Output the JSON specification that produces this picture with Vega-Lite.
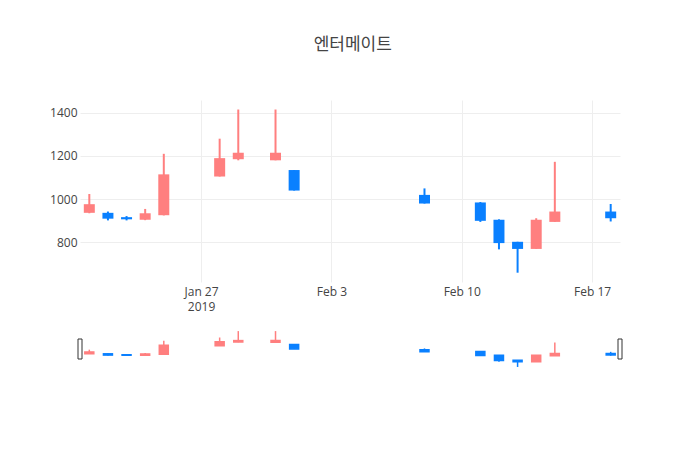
{
  "$schema": "https://vega.github.io/schema/vega-lite/v6.json",
  "background": "white",
  "padding": {"left": 49, "top": 36, "right": 80, "bottom": 20},
  "title": {"text": "엔터메이트", "font": "Noto Sans CJK KR", "fontSize": 17, "fontWeight": "normal", "color": "#444", "anchor": "middle", "offset": 46, "dx": 16},
  "data": {"values": [
    {"date": "2019-01-21", "open": 937, "high": 1024, "low": 935, "close": 977},
    {"date": "2019-01-22", "open": 937, "high": 943, "low": 902, "close": 910},
    {"date": "2019-01-23", "open": 917, "high": 922, "low": 902, "close": 907},
    {"date": "2019-01-24", "open": 905, "high": 955, "low": 903, "close": 935},
    {"date": "2019-01-25", "open": 926, "high": 1210, "low": 925, "close": 1115},
    {"date": "2019-01-28", "open": 1105, "high": 1280, "low": 1105, "close": 1190},
    {"date": "2019-01-29", "open": 1185, "high": 1415, "low": 1180, "close": 1215},
    {"date": "2019-01-31", "open": 1180, "high": 1415, "low": 1180, "close": 1215},
    {"date": "2019-02-01", "open": 1135, "high": 1135, "low": 1040, "close": 1040},
    {"date": "2019-02-08", "open": 1020, "high": 1050, "low": 980, "close": 980},
    {"date": "2019-02-11", "open": 985, "high": 987, "low": 895, "close": 900},
    {"date": "2019-02-12", "open": 905, "high": 907, "low": 768, "close": 797},
    {"date": "2019-02-13", "open": 803, "high": 803, "low": 660, "close": 770},
    {"date": "2019-02-14", "open": 770, "high": 912, "low": 770, "close": 905},
    {"date": "2019-02-15", "open": 895, "high": 1173, "low": 895, "close": 943},
    {"date": "2019-02-18", "open": 943, "high": 978, "low": 897, "close": 912}
  ]},
  "spacing": 17,
  "vconcat": [
    {
      "width": 540,
      "height": 182,
      "encoding": {
        "x": {
          "field": "date", "type": "temporal",
          "scale": {"type": "utc", "padding": 0, "domain": [{"year": 2019, "month": 1, "date": 20, "hours": 12, "utc": true}, {"year": 2019, "month": 2, "date": 18, "hours": 12, "utc": true}]},
          "axis": {
            "title": null,
            "values": [{"year": 2019, "month": 1, "date": 27, "utc": true}, {"year": 2019, "month": 2, "date": 3, "utc": true}, {"year": 2019, "month": 2, "date": 10, "utc": true}, {"year": 2019, "month": 2, "date": 17, "utc": true}],
            "labelExpr": "utcFormat(datum.value, '%b %-d') == 'Jan 27' ? ['Jan 27', '2019'] : utcFormat(datum.value, '%b %-d')",
            "labelLineHeight": 15,
            "labelPadding": 4
          }
        },
        "color": {"condition": {"test": "datum.close >= datum.open", "value": "#FF7F7F"}, "value": "#0A80FF"}
      },
      "layer": [
        {
          "mark": {"type": "rule", "strokeWidth": 2},
          "encoding": {
            "y": {"field": "low", "type": "quantitative", "scale": {"domain": [617, 1459], "nice": false, "zero": false, "padding": 0},
              "axis": {"title": null, "values": [800, 1000, 1200, 1400], "format": "d", "labelPadding": 3}},
            "y2": {"field": "high"}
          }
        },
        {
          "mark": {"type": "bar", "size": 11},
          "encoding": {
            "y": {"field": "open", "type": "quantitative"},
            "y2": {"field": "close"}
          }
        }
      ]
    },
    {
      "width": 540,
      "height": 40,
      "encoding": {
        "x": {
          "field": "date", "type": "temporal",
          "scale": {"type": "utc", "padding": 0, "domain": [{"year": 2019, "month": 1, "date": 20, "hours": 12, "utc": true}, {"year": 2019, "month": 2, "date": 18, "hours": 12, "utc": true}]},
          "axis": null
        },
        "color": {"condition": {"test": "datum.close >= datum.open", "value": "#FF7F7F"}, "value": "#0A80FF"}
      },
      "layer": [
        {
          "mark": {"type": "rule", "strokeWidth": 1.5},
          "encoding": {
            "y": {"field": "low", "type": "quantitative", "scale": {"domain": [617, 1459], "nice": false, "zero": false, "padding": 0}, "axis": null},
            "y2": {"field": "high"}
          }
        },
        {
          "mark": {"type": "bar", "size": 9, "strokeWidth": 1.5},
          "encoding": {
            "y": {"field": "open", "type": "quantitative"},
            "y2": {"field": "close"},
            "stroke": {"condition": {"test": "datum.close >= datum.open", "value": "#FF7F7F"}, "value": "#0A80FF"}
          }
        },
        {
          "data": {"values": [{"edge": "2019-01-20T12:00:00Z", "mid": 1038}, {"edge": "2019-02-18T12:00:00Z", "mid": 1038}]},
          "mark": {"type": "point", "shape": "M-0.2,-1H0.2V1H-0.2Z", "size": 400, "filled": true, "fill": "white", "stroke": "#333", "strokeWidth": 1, "opacity": 1},
          "encoding": {
            "x": {"field": "edge", "type": "temporal"},
            "y": {"field": "mid", "type": "quantitative"},
            "color": {"value": "#333"}
          }
        }
      ]
    }
  ],
  "config": {
    "view": {"stroke": null},
    "font": "Open Sans",
    "axis": {
      "labelFont": "Open Sans", "labelFontSize": 12, "labelColor": "#444",
      "ticks": false, "domain": false, "gridColor": "#eeeeee", "gridWidth": 1
    }
  }
}
